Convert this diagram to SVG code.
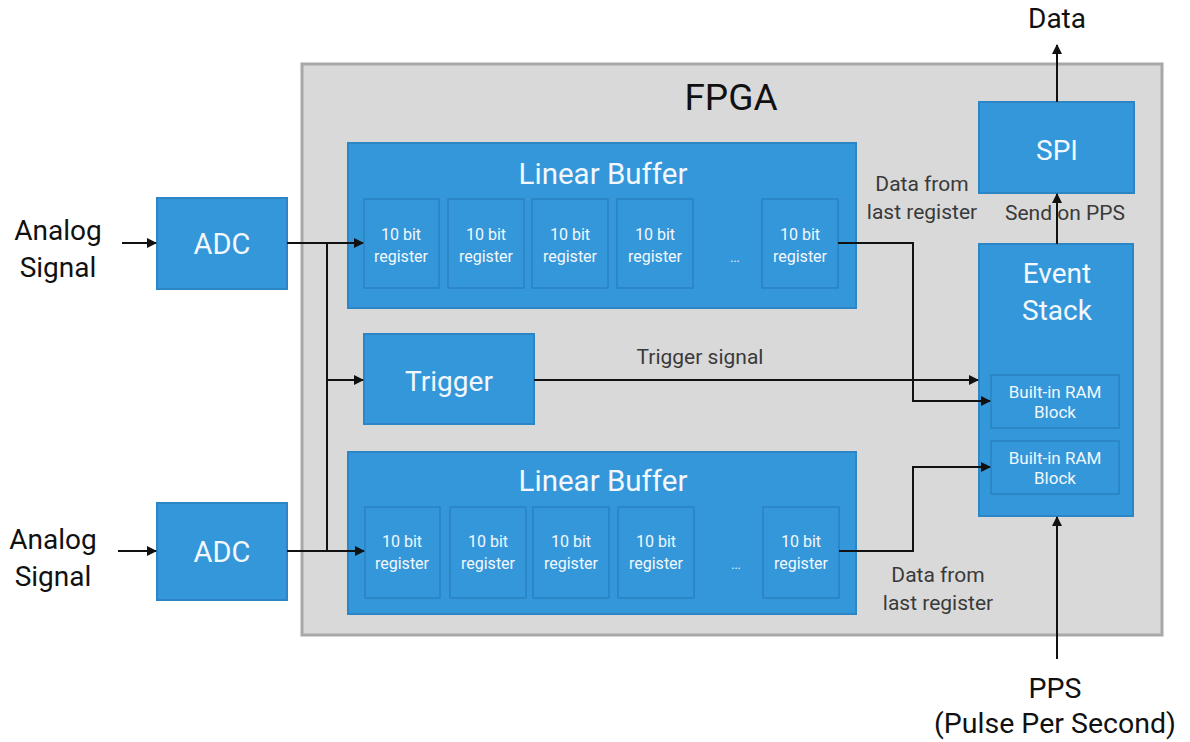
<svg xmlns="http://www.w3.org/2000/svg" width="1190" height="742" viewBox="0 0 1190 742">
<style>
.t{font-family:Roboto,"Liberation Sans",sans-serif;fill:#111;text-anchor:middle}
.w{font-family:Roboto,"Liberation Sans",sans-serif;fill:#f2f8fd;text-anchor:middle}
.g{font-family:Roboto,"Liberation Sans",sans-serif;fill:#3a3a3a;text-anchor:middle}
.box{fill:#3497da;stroke:#2c86c6;stroke-width:2}
.reg{fill:#3497da;stroke:#2a82c0;stroke-width:1.5}
.c{fill:none;stroke:#111;stroke-width:2}
</style>
<defs>
<marker id="a" markerWidth="10" markerHeight="10" refX="9" refY="5" orient="auto" markerUnits="userSpaceOnUse">
<path d="M0,0 L10,5 L0,10 Z" fill="#111"/>
</marker>
</defs>
<g id="fpga">
<rect x="302" y="64" width="860" height="571" fill="#d9d9d9" stroke="#a8a8a8" stroke-width="3"/>
<text class="t" x="731" y="110" font-size="37">FPGA</text>
</g>
<g id="analog1">
<text class="t" x="58" y="240" font-size="28">Analog</text>
<text class="t" x="58" y="277" font-size="28">Signal</text>
</g>
<g id="analog2">
<text class="t" x="53" y="549" font-size="28">Analog</text>
<text class="t" x="53" y="586" font-size="28">Signal</text>
</g>
<g id="adc1">
<rect class="box" x="157" y="198" width="130" height="91"/>
<text class="w" x="222" y="254" font-size="29">ADC</text>
</g>
<g id="adc2">
<rect class="box" x="157" y="503" width="130" height="97"/>
<text class="w" x="222" y="562" font-size="29">ADC</text>
</g>
<g id="buffer1">
<rect class="box" x="348" y="143" width="508" height="165"/>
<text class="w" x="603" y="184" font-size="29.5">Linear Buffer</text>
<rect class="reg" x="364" y="199" width="75" height="89"/>
<rect class="reg" x="448" y="199" width="76" height="89"/>
<rect class="reg" x="532" y="199" width="76" height="89"/>
<rect class="reg" x="617" y="199" width="76" height="89"/>
<rect class="reg" x="762" y="199" width="76" height="89"/>
<g font-size="16">
<text class="w" x="401" y="240">10 bit</text><text class="w" x="401" y="262">register</text>
<text class="w" x="486" y="240">10 bit</text><text class="w" x="486" y="262">register</text>
<text class="w" x="570" y="240">10 bit</text><text class="w" x="570" y="262">register</text>
<text class="w" x="655" y="240">10 bit</text><text class="w" x="655" y="262">register</text>
<text class="w" x="735" y="262" font-size="12">...</text>
<text class="w" x="800" y="240">10 bit</text><text class="w" x="800" y="262">register</text>
</g>
</g>
<g id="buffer2">
<rect class="box" x="348" y="452" width="508" height="162"/>
<text class="w" x="603" y="491" font-size="29.5">Linear Buffer</text>
<rect class="reg" x="365" y="507" width="75" height="91"/>
<rect class="reg" x="450" y="507" width="76" height="91"/>
<rect class="reg" x="533" y="507" width="76" height="91"/>
<rect class="reg" x="618" y="507" width="76" height="91"/>
<rect class="reg" x="763" y="507" width="76" height="91"/>
<g font-size="16">
<text class="w" x="402" y="547">10 bit</text><text class="w" x="402" y="569">register</text>
<text class="w" x="488" y="547">10 bit</text><text class="w" x="488" y="569">register</text>
<text class="w" x="571" y="547">10 bit</text><text class="w" x="571" y="569">register</text>
<text class="w" x="656" y="547">10 bit</text><text class="w" x="656" y="569">register</text>
<text class="w" x="736" y="569" font-size="12">...</text>
<text class="w" x="801" y="547">10 bit</text><text class="w" x="801" y="569">register</text>
</g>
</g>
<g id="trigger">
<rect class="box" x="364" y="334" width="170" height="90"/>
<text class="w" x="449" y="391" font-size="28">Trigger</text>
</g>
<g id="spi">
<rect class="box" x="979" y="102" width="155" height="91"/>
<text class="w" x="1057" y="160" font-size="28">SPI</text>
</g>
<g id="eventstack">
<rect class="box" x="979" y="244" width="154" height="272"/>
<text class="w" x="1057" y="283" font-size="28">Event</text>
<text class="w" x="1057" y="320" font-size="28">Stack</text>
<rect class="reg" x="991" y="375" width="128" height="53"/>
<text class="w" x="1055" y="398" font-size="17">Built-in RAM</text>
<text class="w" x="1055" y="418" font-size="17">Block</text>
<rect class="reg" x="991" y="441" width="128" height="53"/>
<text class="w" x="1055" y="464" font-size="17">Built-in RAM</text>
<text class="w" x="1055" y="484" font-size="17">Block</text>
</g>
<g id="labels">
<text class="t" x="1057" y="28" font-size="28">Data</text>
<text class="t" x="1055" y="698" font-size="28.5">PPS</text>
<text class="t" x="1055" y="733" font-size="28.5">(Pulse Per Second)</text>
<text class="g" x="700" y="364" font-size="21">Trigger signal</text>
<text class="g" x="922" y="191" font-size="21">Data from</text>
<text class="g" x="922" y="219" font-size="21">last register</text>
<text class="g" x="938" y="582" font-size="21">Data from</text>
<text class="g" x="938" y="610" font-size="21">last register</text>
<text class="g" x="1065" y="220" font-size="21">Send on PPS</text>
</g>
<g id="connectors">
<path class="c" d="M122,243 H156" marker-end="url(#a)"/>
<path class="c" d="M118,551 H156" marker-end="url(#a)"/>
<path class="c" d="M287,243 H363" marker-end="url(#a)"/>
<path class="c" d="M287,551 H364" marker-end="url(#a)"/>
<path class="c" d="M327,243 V551"/>
<path class="c" d="M327,380 H363" marker-end="url(#a)"/>
<path class="c" d="M534,380 H978" marker-end="url(#a)"/>
<path class="c" d="M838,243 H913 V401 H990" marker-end="url(#a)"/>
<path class="c" d="M839,551 H913 V467 H990" marker-end="url(#a)"/>
<path class="c" d="M1057,244 V194" marker-end="url(#a)"/>
<path class="c" d="M1057,102 V45" marker-end="url(#a)"/>
<path class="c" d="M1057,659 V517" marker-end="url(#a)"/>
</g>
</svg>
